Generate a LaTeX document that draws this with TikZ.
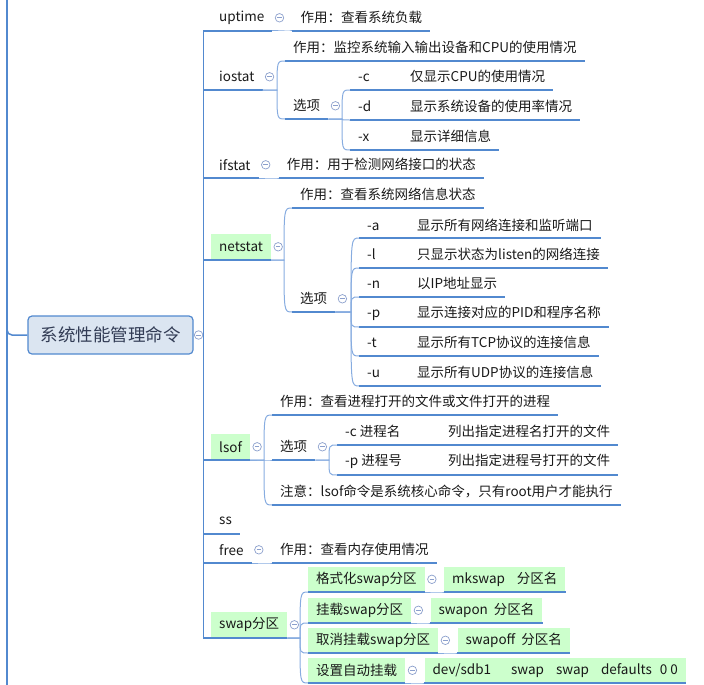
\documentclass[tikz,border=0pt]{standalone}
\usepackage{fontspec}
\setmainfont{Noto Sans CJK SC}
\usepackage{xcolor}
\usepackage{tikz}
\usetikzlibrary{positioning, calc}

\definecolor{lineblue}{RGB}{82,137,207}
\definecolor{linklight}{RGB}{135,172,224}
\definecolor{rootfill}{RGB}{219,229,241}
\definecolor{rootink}{RGB}{50,60,85}
\definecolor{topicgreen}{RGB}{204,255,204}
\definecolor{foldgray}{RGB}{140,160,205}
\definecolor{textdark}{RGB}{25,25,25}

\begin{document}
\begin{tikzpicture}[
    x=1pt, y=-1pt,
    uline/.style={draw=lineblue, line width=2.3pt},
    link/.style={draw=linklight, line width=1pt},
    trunk/.style={draw=lineblue, line width=1.2pt},
    topic/.style={anchor=south west, inner xsep=8pt, inner ysep=0pt, minimum height=26pt,
        font=\fontsize{13.5}{16}\selectfont, text=textdark,
        append after command={(\tikzlastnode.south west) edge[uline] (\tikzlastnode.south east)}},
    greentopic/.style={topic, fill=topicgreen},
    rootbox/.style={rectangle, draw=lineblue, fill=rootfill, line width=1.2pt, rounded corners=4pt,
        minimum width=165pt, minimum height=38pt, font=\fontsize{17.5}{20}\selectfont, text=rootink},
    foldmark/.style={circle, draw=foldgray, fill=white, line width=0.7pt, minimum size=8.5pt, inner sep=0pt,
        path picture={\draw[foldgray, line width=0.8pt] ([xshift=-2.3pt]path picture bounding box.center) -- ([xshift=2.3pt]path picture bounding box.center);}}
]
\useasboundingbox (0,0) rectangle (704,685);

% root and the line it hangs from
\node[rootbox] (root) at (110.5,335) {系统性能管理命令};
\node[foldmark] (root-f) at ([xshift=5pt]root.east) {};
\coordinate (lefttop) at (7,0);
\coordinate (leftbot) at (7,685);
\draw[trunk, line width=1.5pt] (lefttop) -- (leftbot);
\draw[trunk, line width=1.5pt, rounded corners=5pt] ([yshift=15pt]lefttop |- root.west) -- (lefttop |- root.west) -- (root.west);

% commands
\node[topic] (uptime) at (211,31) {uptime};
\node[topic] (iostat) at (211,90) {iostat};
\node[topic] (ifstat) at (211,178) {ifstat};
\node[greentopic] (netstat) at (211,260) {netstat};
\node[greentopic] (lsof) at (211,460) {lsof};
\node[topic] (ss) at (211,534) {ss};
\node[topic] (free) at (211,563) {free};
\node[greentopic] (swap) at (211,638) {swap分区};

\foreach \c in {uptime,iostat,ifstat,netstat,lsof,ss,free,swap}
    \draw[trunk] (root-f.east) |- (\c.south west);

% uptime / ifstat / free
\node[topic] (uptime-use) at ([xshift=20pt]uptime.south east) {作用：查看系统负载};
\node[topic] (ifstat-use) at ([xshift=20pt]ifstat.south east) {作用：用于检测网络接口的状态};
\node[topic] (free-use) at ([xshift=20pt]free.south east) {作用：查看内存使用情况};

% iostat
\node[topic] (iostat-use) at (285,61) {作用：监控系统输入输出设备和CPU的使用情况};
\node[topic] (iostat-opt) at (285,119) {选项};
\node[topic] (iostat-c) at (350,90) {\makebox[52pt][l]{-c}仅显示CPU的使用情况};
\node[topic] (iostat-d) at (350,120) {\makebox[52pt][l]{-d}显示系统设备的使用率情况};
\node[topic] (iostat-x) at (350,150) {\makebox[52pt][l]{-x}显示详细信息};

% netstat
\node[topic] (netstat-use) at (292,208) {作用：查看系统网络信息状态};
\node[topic] (netstat-opt) at (292,312) {选项};
\node[topic] (netstat-a) at (359,238) {\makebox[50pt][l]{-a}显示所有网络连接和监听端口};
\node[topic] (netstat-l) at (359,268) {\makebox[50pt][l]{-l}只显示状态为listen的网络连接};
\node[topic] (netstat-n) at (359,297) {\makebox[50pt][l]{-n}以IP地址显示};
\node[topic] (netstat-p) at (359,327) {\makebox[50pt][l]{-p}显示连接对应的PID和程序名称};
\node[topic] (netstat-t) at (359,356) {\makebox[50pt][l]{-t}显示所有TCP协议的连接信息};
\node[topic] (netstat-u) at (359,386) {\makebox[50pt][l]{-u}显示所有UDP协议的连接信息};

% lsof
\node[topic] (lsof-use) at (272,415) {作用：查看进程打开的文件或文件打开的进程};
\node[topic] (lsof-opt) at (272,460) {选项};
\node[topic] (lsof-note) at (272,505) {注意：lsof命令是系统核心命令，只有root用户才能执行};
\node[topic] (lsof-c) at (337,445) {\makebox[103pt][l]{-c 进程名}列出指定进程名打开的文件};
\node[topic] (lsof-p) at (337,475) {\makebox[103pt][l]{-p 进程号}列出指定进程号打开的文件};

% swap
\node[greentopic, minimum height=25pt] (swap-fmt) at (308,592) {格式化swap分区};
\node[greentopic, minimum height=25pt] (swap-on) at (308,623) {挂载swap分区};
\node[greentopic, minimum height=25pt] (swap-off) at (308,653) {取消挂载swap分区};
\node[greentopic, minimum height=25pt] (swap-auto) at (308,683) {设置自动挂载};
\node[greentopic, minimum height=25pt] (fmt-cmd) at ([xshift=19pt]swap-fmt.south east) {mkswap\hspace{12pt}分区名};
\node[greentopic, minimum height=25pt] (on-cmd) at ([xshift=19pt]swap-on.south east) {swapon\hspace{6pt}分区名};
\node[greentopic, minimum height=25pt] (off-cmd) at ([xshift=19pt]swap-off.south east) {swapoff\hspace{6pt}分区名};
\node[greentopic, minimum height=25pt] (auto-cmd) at ([xshift=19pt]swap-auto.south east) {dev/sdb1\hspace{20pt}swap\hspace{12pt}swap\hspace{12pt}defaults\hspace{8pt}0 0};

% links
\foreach \p/\c in {uptime/uptime-use, ifstat/ifstat-use, free/free-use,
    iostat/iostat-use, iostat/iostat-opt, iostat-opt/iostat-c, iostat-opt/iostat-d, iostat-opt/iostat-x,
    netstat/netstat-use, netstat/netstat-opt,
    netstat-opt/netstat-a, netstat-opt/netstat-l, netstat-opt/netstat-n,
    netstat-opt/netstat-p, netstat-opt/netstat-t, netstat-opt/netstat-u,
    lsof/lsof-use, lsof/lsof-opt, lsof/lsof-note, lsof-opt/lsof-c, lsof-opt/lsof-p,
    swap/swap-fmt, swap/swap-on, swap/swap-off, swap/swap-auto,
    swap-fmt/fmt-cmd, swap-on/on-cmd, swap-off/off-cmd, swap-auto/auto-cmd}
    \draw[link] (\p.south east) -- ($(\c.south west |- \p.south east)+(-8,0)$)
        .. controls ($(\c.south west)+(-8,0)$) .. (\c.south west);

% fold marks
\foreach \n in {uptime,iostat,ifstat,netstat,lsof,free,swap,iostat-opt,netstat-opt,lsof-opt,
    swap-fmt,swap-on,swap-off,swap-auto}
    \node[foldmark] (\n-f) at ([xshift=7pt]\n.east) {};

\end{tikzpicture}
\end{document}
